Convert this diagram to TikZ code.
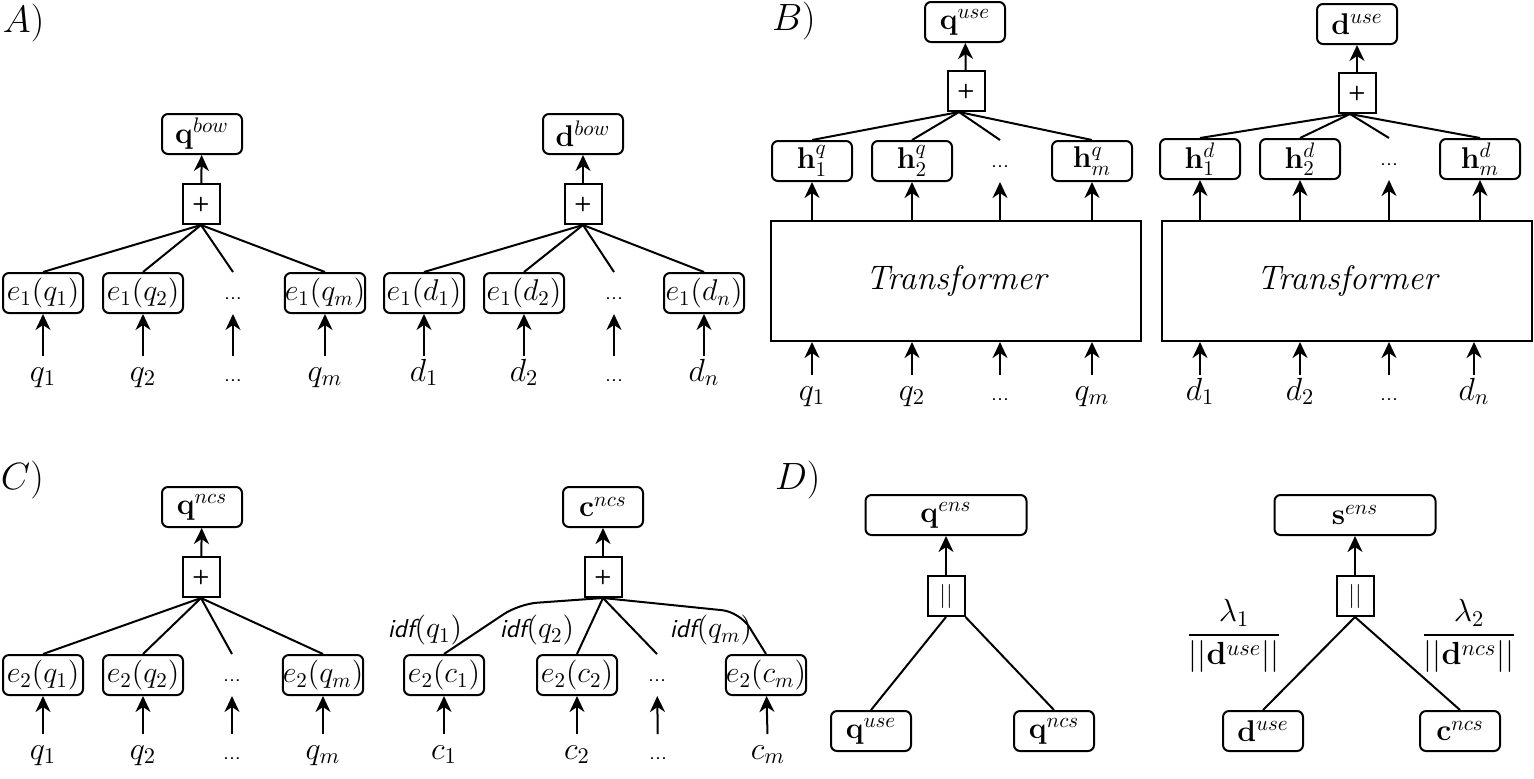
\RequirePackage{fix-cm}
\documentclass[tikz,border=0pt]{standalone}
\usepackage{amsmath,amssymb}
\usetikzlibrary{arrows.meta}
\newcommand{\dotslab}{{\fontsize{11}{13}\selectfont\sffamily ...}}

\begin{document}
\begin{tikzpicture}[x=0.5pt,y=-0.5pt,line width=1pt,
  >={Stealth[length=8pt,width=7.5pt,inset=2.5pt]},
  every node/.style={font=\fontsize{16}{19}\selectfont},
  emb/.style={draw,rounded corners=3pt,minimum width=40pt,minimum height=20pt,inner sep=0pt,font=\fontsize{15}{18}\selectfont},
  widebox/.style={emb,minimum width=80.5pt},
  dotcell/.style={minimum width=40pt,minimum height=20pt,inner sep=0pt,text height=6pt,text depth=0pt},
  opb/.style={draw,minimum width=18.5pt,minimum height=20pt,inner sep=0pt,font=\fontsize{10}{12}\selectfont\sffamily\bfseries},
  tfm/.style={draw,minimum width=185pt,minimum height=60pt,inner sep=0pt,font=\fontsize{17}{20}\selectfont\itshape},
  lbl/.style={anchor=base,inner xsep=0pt,inner ysep=5pt,text height=7pt,text depth=3pt},
  idf/.style={inner sep=0pt,font=\fontsize{15}{18}\selectfont},
  panel/.style={anchor=base west,inner sep=0pt,font=\fontsize{19}{22}\selectfont}]
  \useasboundingbox (0,0) rectangle (1534,778);
  \node[panel] (pA) at (2,32) {$A)$};
  \node[panel] (pB) at (771,30) {$B)$};
  \node[panel] (pC) at (0,489) {$C)$};
  \node[panel] (pD) at (774,489) {$D)$};
  % A: bag of words, query
  \node[emb] (qbow) at (202,134) {$\mathbf{q}^{bow}$};
  \node[opb] (pa) at (201,204) {+};
  \draw[->] (pa) -- (qbow);
  \foreach \n/\x/\txt in {1/43/{$e_1(q_1)$},2/143/{$e_1(q_2)$},m/325/{$e_1(q_m)$}}
    \node[emb] (aq\n) at (\x,293) {\txt};
  \node[dotcell] (aqd) at (233,293) {\dotslab};
  \foreach \n/\x/\lab in {1/43/{$q_1$},2/143/{$q_2$},d/233/{\dotslab},m/325/{$q_m$}}
    {\node[lbl] (laq\n) at (\x,381) {\lab};
     \draw[->] (laq\n) -- (aq\n); \draw (pa.south) -- (aq\n.north);}
  % A: bag of words, document
  \node[emb] (dbow) at (583,134) {$\mathbf{d}^{bow}$};
  \node[opb] (pad) at (583,204) {+};
  \draw[->] (pad) -- (dbow);
  \foreach \n/\x/\txt in {1/424/{$e_1(d_1)$},2/524/{$e_1(d_2)$},n/704/{$e_1(d_n)$}}
    \node[emb] (ad\n) at (\x,293) {\txt};
  \node[dotcell] (add) at (614,293) {\dotslab};
  \foreach \n/\x/\lab in {1/424/{$d_1$},2/524/{$d_2$},d/614/{\dotslab},n/704/{$d_n$}}
    {\node[lbl] (lad\n) at (\x,381) {\lab};
     \draw[->] (lad\n) -- (ad\n); \draw (pad.south) -- (ad\n.north);}
  % B: transformer, query
  \node[emb] (quse) at (965,22) {$\mathbf{q}^{use}$};
  \node[opb] (pb) at (966,91) {+};
  \draw[->] (pb) -- (quse);
  \node[tfm] (tq) at (956,281) {Transformer};
  \foreach \n/\x/\txt in {1/812/{$\mathbf{h}_1^q$},2/912/{$\mathbf{h}_2^q$},m/1092/{$\mathbf{h}_m^q$}}
    \node[emb] (hq\n) at (\x,161) {\txt};
  \node[dotcell] (hqd) at (1000,161) {\dotslab};
  \foreach \n/\x/\lab in {1/812/{$q_1$},2/912/{$q_2$},d/1000/{\dotslab},m/1092/{$q_m$}}
    {\node[lbl] (lbq\n) at (\x,400) {\lab};
     \draw[->] (lbq\n) -- (lbq\n |- tq.south);
     \draw[->] (hq\n |- tq.north) -- (hq\n);
     \draw ([xshift=-3.5pt]pb.south) -- (hq\n.north);}
  % B: transformer, document
  \node[emb] (duse) at (1357,24) {$\mathbf{d}^{use}$};
  \node[opb] (pbd) at (1357,93) {+};
  \draw[->] (pbd) -- (duse);
  \node[tfm] (td) at (1347,281) {Transformer};
  \foreach \n/\x/\txt in {1/1200/{$\mathbf{h}_1^d$},2/1300/{$\mathbf{h}_2^d$},m/1480/{$\mathbf{h}_m^d$}}
    \node[emb] (hd\n) at (\x,159) {\txt};
  \node[dotcell] (hdd) at (1389,159) {\dotslab};
  \foreach \n/\x/\lab in {1/1200/{$d_1$},2/1300/{$d_2$},d/1389/{\dotslab},m/1474/{$d_n$}}
    {\node[lbl] (lbd\n) at (\x,400) {\lab};
     \draw[->] (lbd\n) -- (lbd\n |- td.south);
     \draw[->] (hd\n |- td.north) -- (hd\n);
     \draw ([xshift=-3.5pt]pbd.south) -- (hd\n.north);}
  % C: ncs, query
  \node[emb] (qncs) at (202,507) {$\mathbf{q}^{ncs}$};
  \node[opb] (pc) at (201,577) {+};
  \draw[->] (pc) -- (qncs);
  \foreach \n/\x/\txt in {1/43/{$e_2(q_1)$},2/143/{$e_2(q_2)$},m/323/{$e_2(q_m)$}}
    \node[emb] (cq\n) at (\x,675) {\txt};
  \node[dotcell] (cqd) at (232,675) {\dotslab};
  \foreach \n/\x/\lab in {1/43/{$q_1$},2/143/{$q_2$},d/232/{\dotslab},m/323/{$q_m$}}
    {\node[lbl] (lcq\n) at (\x,759) {\lab};
     \draw[->] (lcq\n) -- (cq\n); \draw (pc.south) -- (cq\n.north);}
  % C: ncs, code with idf weights
  \node[emb] (cncs) at (603,507) {$\mathbf{c}^{ncs}$};
  \node[opb] (pcc) at (603,577) {+};
  \draw[->] (pcc) -- (cncs);
  \foreach \n/\x/\txt in {1/444/{$e_2(c_1)$},2/577/{$e_2(c_2)$},m/766/{$e_2(c_m)$}}
    \node[emb] (cc\n) at (\x,675) {\txt};
  \node[dotcell] (ccd) at (657,675) {\dotslab};
  \foreach \n/\x/\lab in {1/444/{$c_1$},2/577/{$c_2$},d/658/{\dotslab},m/768/{$c_m$}}
    {\node[lbl] (lcc\n) at (\x,759) {\lab};
     \draw[->] (lcc\n) -- (cc\n);}
  \coordinate (k1) at (519,604);
  \coordinate (k2) at (740,612);
  \draw[rounded corners=9pt] (pcc.south) -- (k1) -- (cc1.north);
  \draw (pcc.south) -- (cc2.north);
  \draw (pcc.south) -- (ccd.north);
  \draw[rounded corners=9pt] (pcc.south) -- (k2) -- (ccm.north);
  \node[idf] (w1) at (425,630) {{\fontsize{13}{15}\selectfont\sffamily\itshape idf}$(q_1)$};
  \node[idf] (w2) at (537,630) {{\fontsize{13}{15}\selectfont\sffamily\itshape idf}$(q_2)$};
  \node[idf] (wm) at (711,630) {{\fontsize{13}{15}\selectfont\sffamily\itshape idf}$(q_m)$};
  % D: ensemble, query
  \node[widebox] (qens) at (946,515) {$\mathbf{q}^{ens}$};
  \node[opb,font=\fontsize{12}{14}\selectfont\sffamily] (pdq) at (946,596) {||};
  \draw[->] (pdq) -- (qens);
  \node[emb] (qu) at (871,731) {$\mathbf{q}^{use}$};
  \node[emb] (qn) at (1054,731) {$\mathbf{q}^{ncs}$};
  \draw (pdq.south) -- (qu.north);
  \draw (pdq.south east) -- (qn.north);
  % D: ensemble, score
  \node[widebox] (sens) at (1355,515) {$\mathbf{s}^{ens}$};
  \node[opb,font=\fontsize{12}{14}\selectfont\sffamily] (pds) at (1355,596) {||};
  \draw[->] (pds) -- (sens);
  \node[emb] (du) at (1263,731) {$\mathbf{d}^{use}$};
  \node[emb] (cn) at (1460,731) {$\mathbf{c}^{ncs}$};
  \draw (pds.south) -- (du.north);
  \draw (pds.south) -- (cn.north);
  \node[inner sep=0pt] (f1) at (1234,636) {$\dfrac{\lambda_1}{||\mathbf{d}^{use}||}$};
  \node[inner sep=0pt] (f2) at (1469,636) {$\dfrac{\lambda_2}{||\mathbf{d}^{ncs}||}$};
\end{tikzpicture}
\end{document}
